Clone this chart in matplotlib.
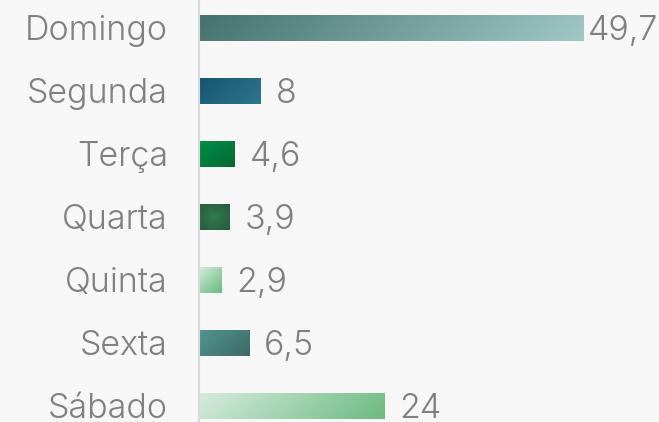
import numpy as np
import matplotlib
matplotlib.use("Agg")
import matplotlib.pyplot as plt
from matplotlib.colors import LinearSegmentedColormap

days = ["Domingo", "Segunda", "Terça", "Quarta", "Quinta", "Sexta", "Sábado"]
values = [49.7, 8, 4.6, 3.9, 2.9, 6.5, 24]
labels = ["49,7", "8", "4,6", "3,9", "2,9", "6,5", "24"]

# gradient for each bar: start color, end color, kind
grads = [
    ("#45736c", "#9fc8c3", "diag"),
    ("#175470", "#2e778c", "diag"),
    ("#008e47", "#006a34", "diag"),
    ("#337a4f", "#255c3c", "radial"),
    ("#d2ebd9", "#6aba7f", "diag"),
    ("#529591", "#3c6a66", "diag"),
    ("#d5ebdc", "#6cbb81", "diag"),
]

bg = "#f7f7f7"
txt = "#808080"
plt.rcParams['font.family'] = ["Inter", "DejaVu Sans"]
fs = 24.5
wt = 300

fig = plt.figure(figsize=(6.59, 4.22), dpi=100, facecolor=bg)
ax = fig.add_axes([199/659, 0, 460/659, 1], facecolor=bg)

px_per_unit = 7.73
bar_h = 0.41
base_off = -0.36 * fs  # points, drops baseline so caps sit centred on the bar
for i, (v, g) in enumerate(zip(values, grads)):
    w = max(int(v * px_per_unit), 2)
    h = 26
    xx, yy = np.meshgrid(np.linspace(0, 1, w), np.linspace(0, 1, h))
    if g[2] == "radial":
        t = np.sqrt((xx - 0.5) ** 2 + (yy - 0.5) ** 2) / 0.71
    else:
        t = xx * w + yy * h
        t = (t - t.min()) / (t.max() - t.min())
    cmap = LinearSegmentedColormap.from_list("g%d" % i, [g[0], g[1]])
    ax.imshow(t, cmap=cmap, vmin=0, vmax=1, aspect="auto",
              extent=[0, v, i + bar_h / 2, i - bar_h / 2], interpolation="bilinear", zorder=2)
    off = 5 if v == max(values) else 15
    ax.annotate(labels[i], (v, i), xytext=(off * 0.72, base_off), textcoords="offset points",
                va="baseline", ha="left", fontsize=fs, color=txt, fontweight=wt)
    ax.annotate(days[i], (0, i), xytext=(-31 * 0.72, base_off), textcoords="offset points",
                va="baseline", ha="right", fontsize=fs, color=txt, fontweight=wt,
                annotation_clip=False)

ax.set_xlim(0, 460 / px_per_unit)
ax.set_ylim((422 - 28) / 63, -28 / 63)
ax.set_yticks([])
ax.set_xticks([])
for s in ["top", "right", "bottom"]:
    ax.spines[s].set_visible(False)
ax.spines["left"].set_color("#dcdcdc")
ax.spines["left"].set_linewidth(1.5)

fig.savefig("out.png", dpi=100, facecolor=bg)
